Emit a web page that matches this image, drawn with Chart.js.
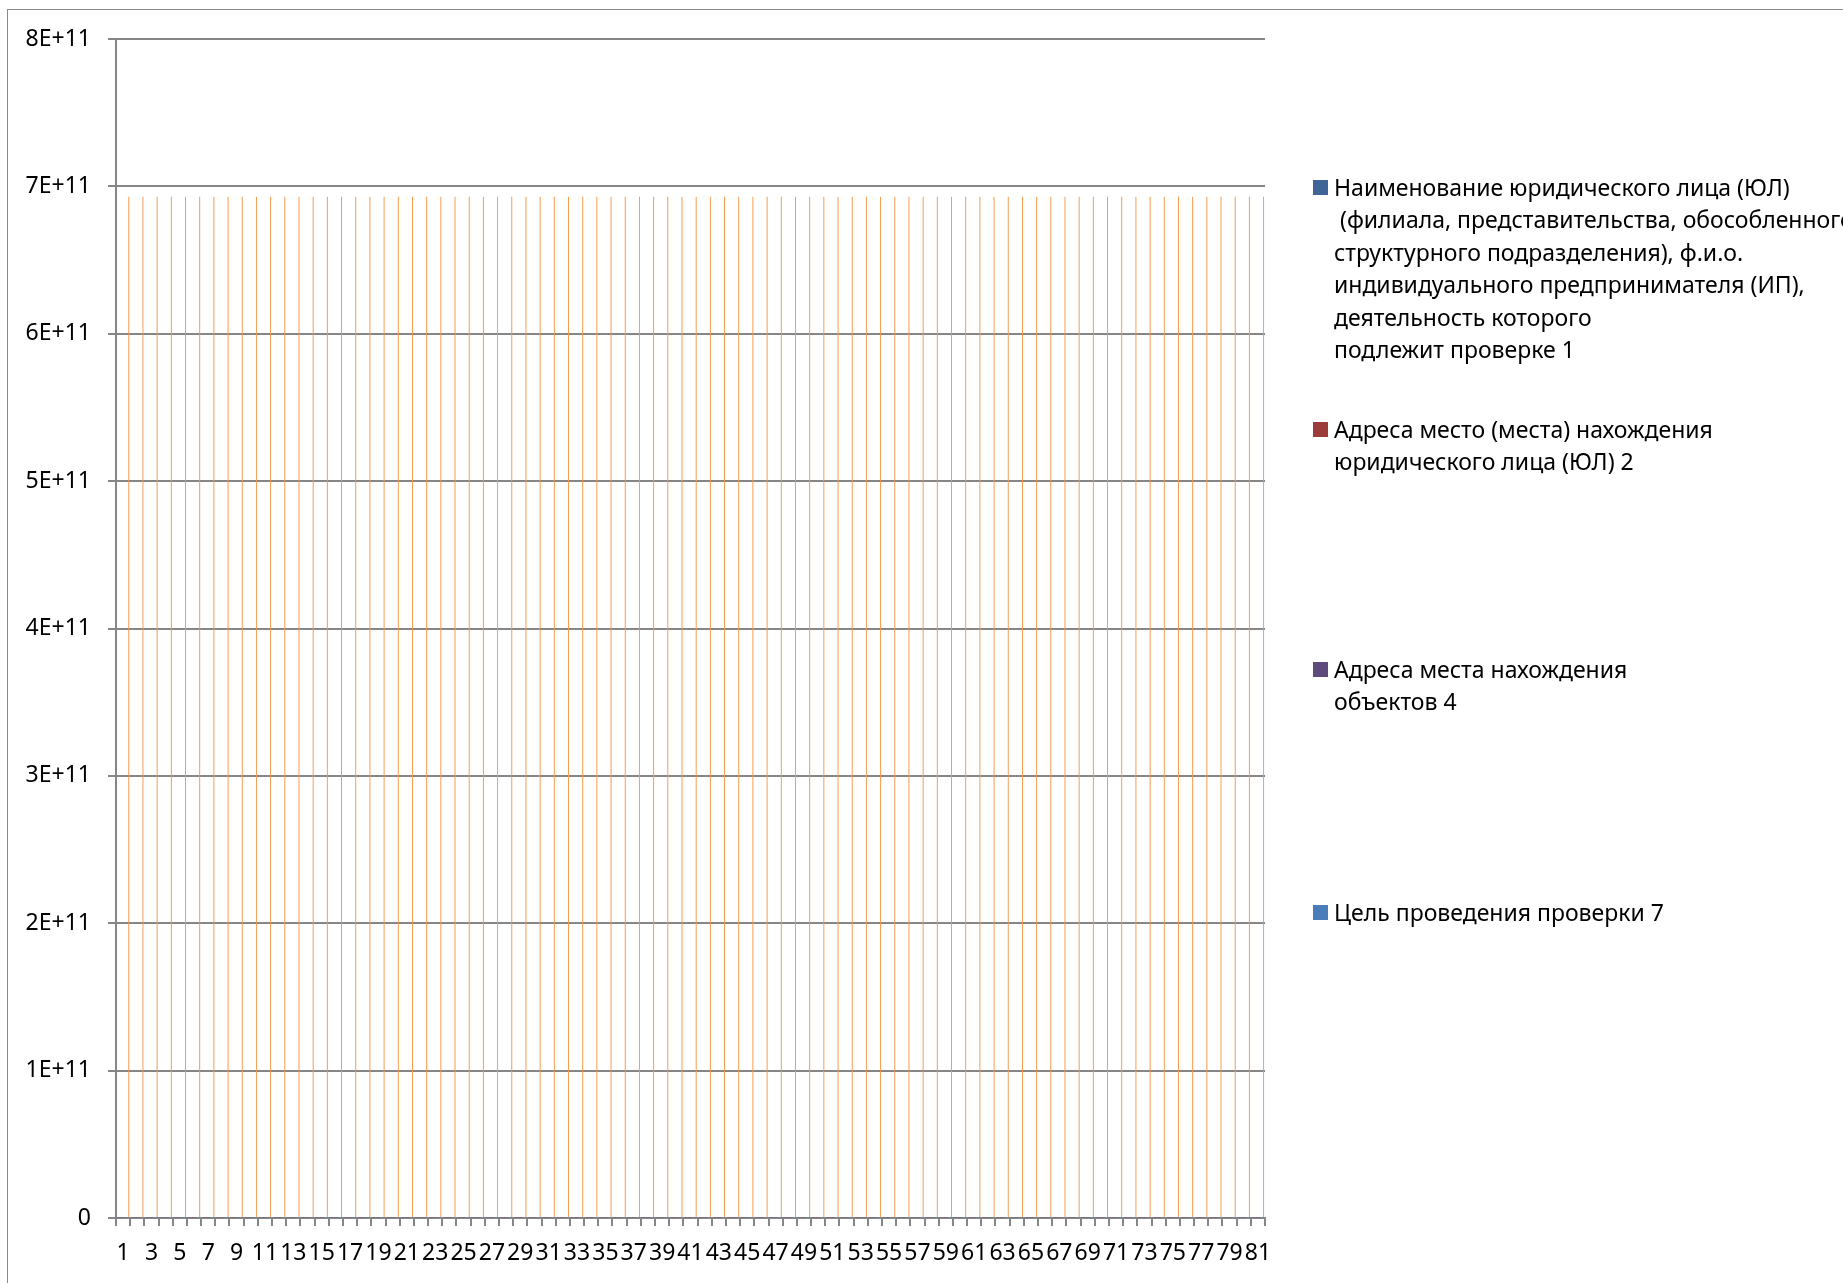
<!DOCTYPE html>
<html lang="ru">
<head>
<meta charset="utf-8">
<script src="https://cdn.jsdelivr.net/npm/chart.js@4"></script>
<style>
  html, body { margin: 0; padding: 0; background: #fff; overflow: hidden; }
  #wrap { position: relative; width: 1843px; height: 1283px; }
  #frame { position: absolute; left: 7px; top: 9px; width: 2400px; height: 2400px; border-left: 1.5px solid #8a8a8a; border-top: 1.5px solid #8a8a8a; box-sizing: border-box; }
  canvas { position: absolute; left: 0; top: 0; }
  .lg { position: absolute; left: 1313px; font-family: "Noto Sans", sans-serif; font-size: 23px; line-height: 32.4px; color: #000; white-space: pre; }
  .lg .sw { position: absolute; left: 0; top: 9px; width: 14.5px; height: 14.5px; }
  .lg .tx { position: absolute; left: 21px; top: 0; }
</style>
</head>
<body>
<div id="wrap">
  <div id="frame"></div>
  <canvas id="c" width="1843" height="1283"></canvas>
  <div id="legend"></div>
</div>
<script>
// ---- data ----
const categories = Array.from({length: 81}, (_, i) => String(i + 1));
const seriesNames = [
  "Наименование юридического лица (ЮЛ)\n (филиала, представительства, обособленного\nструктурного подразделения), ф.и.о.\nиндивидуального предпринимателя (ИП),\nдеятельность которого\nподлежит проверке 1",
  "Адреса место (места) нахождения\nюридического лица (ЮЛ) 2",
  "Адреса места нахождения\nобъектов 4",
  "Цель проведения проверки 7"
];
const seriesColors = ["#3e6498", "#9b3c3a", "#5f4a7e", "#4a7ebb"];
const series1 = new Array(81).fill(0);
const series2 = new Array(81).fill(0);
const series4 = new Array(81).fill(0);
const series7 = new Array(81).fill(0);
const orangeSeries = new Array(81).fill(6.93e11);
const yTickLabels = ["0", "1E+11", "2E+11", "3E+11", "4E+11", "5E+11", "6E+11", "7E+11", "8E+11"];

const legendTops = [171, 413, 653, 896];

const gray = "#868686";
const fontFam = '"Noto Sans", sans-serif';

const datasets = [series1, series2, series4, series7].map((d, i) => ({
  label: seriesNames[i],
  data: d,
  backgroundColor: seriesColors[i],
  borderWidth: 0,
  categoryPercentage: 1,
  barPercentage: 1
}));
datasets.push({
  label: "",
  data: orangeSeries,
  backgroundColor: "#f79646",
  borderWidth: 0,
  categoryPercentage: 1,
  barPercentage: 0.33
});

new Chart(document.getElementById("c"), {
  type: "bar",
  data: { labels: categories, datasets },
  options: {
    responsive: false,
    animation: false,
    devicePixelRatio: 1,
    layout: { padding: { left: 0, top: 39, right: 578, bottom: 0 } },
    plugins: { legend: { display: false }, tooltip: { enabled: false } },
    scales: {
      x: {
        offset: true,
        grid: { offset: true, drawOnChartArea: false, drawTicks: true, tickLength: 8, color: gray, lineWidth: 2 },
        border: { display: true, color: gray, width: 2 },
        ticks: {
          autoSkip: false, maxRotation: 0, minRotation: 0, padding: 14,
          color: "#000", font: { family: fontFam, size: 23 },
          callback: (v, i) => (i % 2 === 0 ? categories[i] : "")
        },
        afterFit: (s) => { s.height = 65; }
      },
      y: {
        min: 0, max: 8e11,
        ticks: {
          stepSize: 1e11, padding: 17, color: "#000", font: { family: fontFam, size: 23 },
          callback: (v, i) => yTickLabels[i]
        },
        grid: { color: gray, lineWidth: 2, tickLength: 8 },
        border: { display: true, color: gray, width: 2 },
        afterFit: (s) => { s.width = 116; }
      }
    }
  }
});

// legend built from series names and colours
const lg = document.getElementById("legend");
seriesNames.forEach((name, i) => {
  const item = document.createElement("div");
  item.className = "lg";
  item.style.top = legendTops[i] + "px";
  const sw = document.createElement("div");
  sw.className = "sw";
  sw.style.background = seriesColors[i];
  const tx = document.createElement("div");
  tx.className = "tx";
  tx.textContent = name;
  item.appendChild(sw);
  item.appendChild(tx);
  lg.appendChild(item);
});
</script>
</body>
</html>
